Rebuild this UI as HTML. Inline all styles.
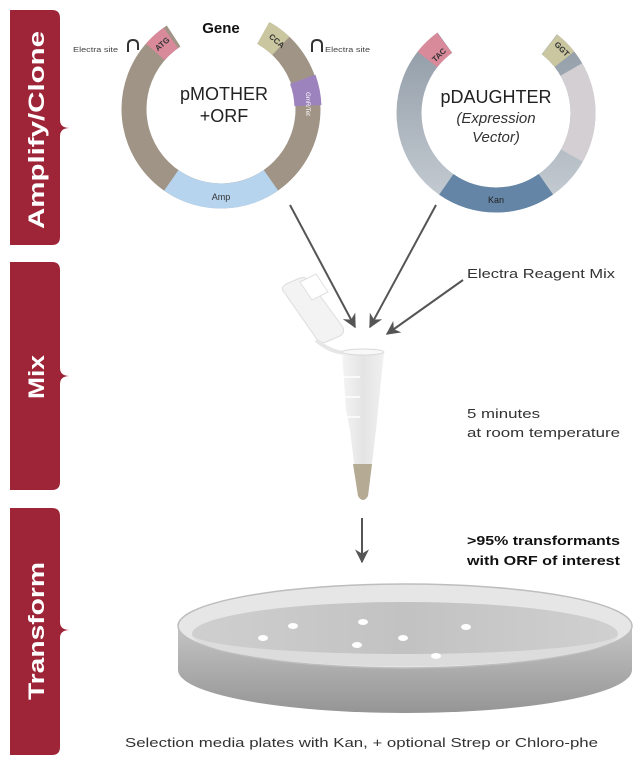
<!DOCTYPE html>
<html><head><meta charset="utf-8"><style>
html,body{margin:0;padding:0;background:#fff;}
svg{display:block;font-family:"Liberation Sans",sans-serif;}
</style></head><body>
<svg width="634" height="766" viewBox="0 0 634 766" xmlns="http://www.w3.org/2000/svg">
<defs>
<linearGradient id="dg" x1="0" y1="0" x2="0" y2="1"><stop offset="0" stop-color="#8d98a3"/><stop offset="1" stop-color="#c4cbd2"/></linearGradient>
<linearGradient id="side" x1="0" y1="0" x2="0" y2="1"><stop offset="0" stop-color="#c4c4c4"/><stop offset="1" stop-color="#959595"/></linearGradient>
<linearGradient id="agar" x1="0" y1="0" x2="1" y2="0"><stop offset="0" stop-color="#cfcfcf"/><stop offset="0.5" stop-color="#c2c2c2"/><stop offset="1" stop-color="#d0d0d0"/></linearGradient>
<linearGradient id="tube" x1="0" y1="0" x2="1" y2="0"><stop offset="0" stop-color="#f4f4f4"/><stop offset="0.5" stop-color="#e4e4e4"/><stop offset="1" stop-color="#f0f0f0"/></linearGradient>
<marker id="ah" viewBox="0 0 10 10" refX="9" refY="5" markerWidth="7" markerHeight="7" orient="auto"><path d="M0,0 L10,5 L0,10 L3,5 z" fill="#555"/></marker>
</defs>

<!-- Left tabs -->
<g fill="#9e2438">
<path d="M10,10 H52 Q60,10 60,18 V120 Q60,128 70,128 Q60,128 60,136 V237 Q60,245 52,245 H10 z"/>
<path d="M10,262 H52 Q60,262 60,270 V368 Q60,376 70,376 Q60,376 60,384 V482 Q60,490 52,490 H10 z"/>
<path d="M10,508 H52 Q60,508 60,516 V622 Q60,630 70,630 Q60,630 60,638 V747 Q60,755 52,755 H10 z"/>
</g>
<g fill="#fff" font-weight="bold" font-size="22" text-anchor="middle">
<text transform="translate(44,130) rotate(-90)" textLength="198" lengthAdjust="spacingAndGlyphs">Amplify/Clone</text>
<text transform="translate(44,377) rotate(-90)" textLength="44" lengthAdjust="spacingAndGlyphs">Mix</text>
<text transform="translate(44,631) rotate(-90)" textLength="138" lengthAdjust="spacingAndGlyphs">Transform</text>
</g>

<!-- pMOTHER ring -->
<g fill="none" stroke-width="25">
<circle cx="221" cy="109" r="87" stroke="#a09486"/>
<circle cx="221" cy="109" r="87" stroke="#fff" stroke-width="28" stroke-dasharray="96 9999" transform="rotate(-123 221 109)"/>
<circle cx="221" cy="109" r="87" stroke="#d98a9a" stroke-dasharray="21 9999" transform="rotate(-139 221 109)"/>
<circle cx="221" cy="109" r="87" stroke="#c9c6a0" stroke-dasharray="22 9999" transform="rotate(-61 221 109)"/>
<circle cx="221" cy="109" r="87" stroke="#9d83bd" stroke-width="27" stroke-dasharray="27 9999" transform="rotate(-20 221 109)"/>
<circle cx="221" cy="109" r="87" stroke="#b7d4ee" stroke-dasharray="106 9999" transform="rotate(55 221 109)"/>
</g>
<text x="221" y="33" font-size="15" font-weight="bold" text-anchor="middle" fill="#111">Gene</text>
<text x="224" y="100" font-size="18" text-anchor="middle" fill="#222">pMOTHER</text>
<text x="224" y="122" font-size="18" text-anchor="middle" fill="#222">+ORF</text>
<text transform="translate(164,46) rotate(-41)" font-size="8" font-weight="bold" text-anchor="middle" fill="#333">ATG</text>
<text transform="translate(275,43) rotate(40)" font-size="8" font-weight="bold" text-anchor="middle" fill="#333">CCA</text>
<text transform="translate(306,104) rotate(90)" font-size="6" text-anchor="middle" fill="#fff">GmR/Tet</text>
<text x="221" y="200" font-size="9" text-anchor="middle" fill="#333">Amp</text>
<text x="73" y="52" font-size="7" fill="#444" textLength="45" lengthAdjust="spacingAndGlyphs">Electra site</text>
<path d="M128,52 V45 Q128,40 133,40 Q138,40 138,45 V50" fill="none" stroke="#333" stroke-width="2"/>
<path d="M312,52 V45 Q312,40 317,40 Q322,40 322,45 V52" fill="none" stroke="#333" stroke-width="2"/>
<text x="325" y="52" font-size="7" fill="#444" textLength="45" lengthAdjust="spacingAndGlyphs">Electra site</text>

<!-- pDAUGHTER ring -->
<g fill="none" stroke-width="25">
<circle cx="496" cy="113" r="87" stroke="url(#dg)"/>
<circle cx="496" cy="113" r="87" stroke="#fff" stroke-width="28" stroke-dasharray="112 9999" transform="rotate(-126 496 113)"/>
<circle cx="496" cy="113" r="87" stroke="#d4cfd2" stroke-dasharray="90 9999" transform="rotate(-30 496 113)"/>
<circle cx="496" cy="113" r="87" stroke="#d98a9a" stroke-dasharray="24 9999" transform="rotate(-142 496 113)"/>
<circle cx="496" cy="113" r="87" stroke="#c9c6a0" stroke-dasharray="21 9999" transform="rotate(-52 496 113)"/>
<circle cx="496" cy="113" r="87" stroke="#6485a6" stroke-dasharray="106 9999" transform="rotate(55 496 113)"/>
</g>
<text x="496" y="103" font-size="18" text-anchor="middle" fill="#222">pDAUGHTER</text>
<text x="496" y="123" font-size="15" font-style="italic" text-anchor="middle" fill="#333">(Expression</text>
<text x="496" y="142" font-size="15" font-style="italic" text-anchor="middle" fill="#333">Vector)</text>
<text transform="translate(441,57) rotate(-44)" font-size="8" font-weight="bold" text-anchor="middle" fill="#333">TAC</text>
<text transform="translate(560,51) rotate(45)" font-size="8" font-weight="bold" text-anchor="middle" fill="#333">GGT</text>
<text x="496" y="203" font-size="9" text-anchor="middle" fill="#222">Kan</text>

<!-- arrows -->
<g stroke="#555" stroke-width="2" marker-end="url(#ah)">
<line x1="290" y1="205" x2="355" y2="327"/>
<line x1="436" y1="205" x2="370" y2="327"/>
<line x1="463" y1="280" x2="387" y2="334"/>
<line x1="362" y1="518" x2="362" y2="562"/>
</g>
<text x="467" y="278" font-size="13" fill="#333" textLength="148" lengthAdjust="spacingAndGlyphs">Electra Reagent Mix</text>
<text x="467" y="418" font-size="13" fill="#333" textLength="73" lengthAdjust="spacingAndGlyphs">5 minutes</text>
<text x="467" y="437" font-size="13" fill="#333" textLength="153" lengthAdjust="spacingAndGlyphs">at room temperature</text>
<text x="467" y="545" font-size="13" font-weight="bold" fill="#111" textLength="153" lengthAdjust="spacingAndGlyphs">&gt;95% transformants</text>
<text x="467" y="565" font-size="13" font-weight="bold" fill="#111" textLength="153" lengthAdjust="spacingAndGlyphs">with ORF of interest</text>

<!-- tube -->
<g transform="translate(260,260)">
<path d="M24,32 Q20,28 26,24 L40,18 Q46,16 50,22 L82,66 Q86,72 80,76 L66,82 Q60,84 56,78 z" fill="#f3f3f3" stroke="#ddd"/>
<path d="M40,22 L56,14 L68,32 L52,40 z" fill="#fff" stroke="#e0e0e0"/>
<path d="M56,80 Q70,92 85,93" fill="none" stroke="#e6e6e6" stroke-width="4"/>
<path d="M82,92 L124,92 L118,150 L116,170 L108,236 Q103,244 98,236 L90,170 L86,150 z" fill="url(#tube)"/>
<ellipse cx="103" cy="92" rx="21" ry="3" fill="#f8f8f8" stroke="#d8d8d8"/>
<path d="M93,204 L112,204 L108,236 Q103,244 98,236 z" fill="#b5aa94"/>
<g stroke="#fff" stroke-width="1.5"><line x1="83" y1="117" x2="100" y2="117"/><line x1="84" y1="137" x2="100" y2="137"/><line x1="86" y1="157" x2="100" y2="157"/></g>
</g>

<!-- petri dish -->
<path d="M178,626 V670 A227,43 0 0 0 632,670 V626 z" fill="url(#side)"/>
<ellipse cx="405" cy="626" rx="227" ry="42" fill="#e6e6e6" stroke="#bdbdbd" stroke-width="1.5"/>
<ellipse cx="405" cy="634" rx="213" ry="32" fill="url(#agar)"/>
<path d="M192,634 A213,32 0 0 0 618,634 A213,20 0 0 1 192,634 z" fill="#dcdcdc"/>
<g fill="#fff">
<ellipse cx="263" cy="638" rx="5" ry="3"/><ellipse cx="293" cy="626" rx="5" ry="3"/>
<ellipse cx="363" cy="622" rx="5" ry="3"/><ellipse cx="357" cy="645" rx="5" ry="3"/>
<ellipse cx="403" cy="638" rx="5" ry="3"/><ellipse cx="466" cy="627" rx="5" ry="3"/>
<ellipse cx="436" cy="656" rx="5" ry="3"/>
</g>
<text x="125" y="747" font-size="13" fill="#333" textLength="473" lengthAdjust="spacingAndGlyphs">Selection media plates with Kan, + optional Strep or Chloro-phe</text>
</svg>
</body></html>
